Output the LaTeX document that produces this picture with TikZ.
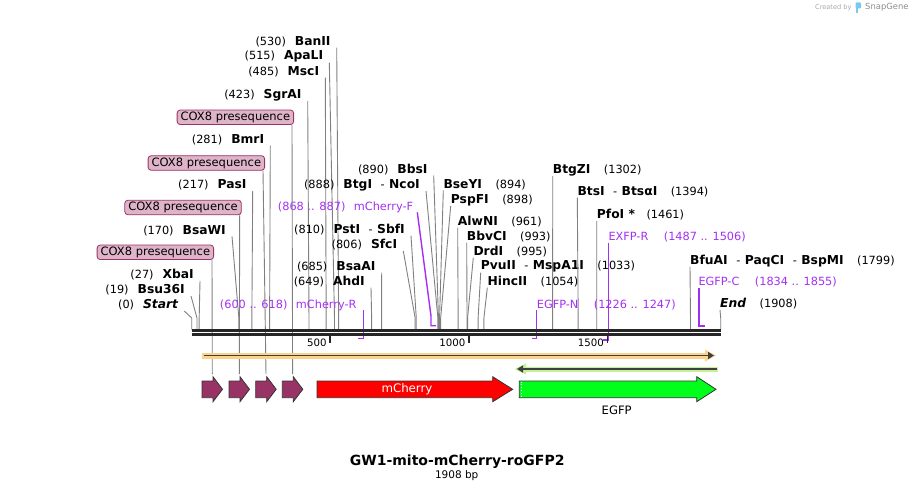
\documentclass[tikz,border=0pt]{standalone}
\usepackage{fontspec}
\setmainfont{DejaVu Sans}
\usetikzlibrary{arrows.meta}
\definecolor{sitegrey}{RGB}{128,128,128}
\definecolor{primerc}{RGB}{163,48,240}
\definecolor{coxc}{RGB}{153,51,102}
\definecolor{coxpink}{RGB}{222,180,200}
\definecolor{bandorange}{RGB}{252,211,140}
\definecolor{bandgreen}{RGB}{196,240,150}
\definecolor{egfpc}{RGB}{0,255,26}
\definecolor{snapblue}{RGB}{120,200,240}
\newcommand\nm[1]{{\fontsize{12.3}{14}\selectfont\bfseries #1}}
\newcommand\sep{\hspace{8.5pt}-\hspace{4.5pt}}

\begin{document}
\begin{tikzpicture}[x=1pt,y=-1pt,
    lbl/.style={inner sep=0pt,font=\fontsize{11.3}{13}\selectfont},
    plbl/.style={lbl,text=primerc},
    cut/.style={draw=sitegrey,line width=0.9pt},
    primer/.style={draw=primerc,line width=1.4pt},
    coxbox/.style={draw=coxc,fill=coxpink,rounded corners=3pt,line width=0.8pt,
      inner xsep=3.5pt,inner ysep=0pt,minimum height=14.5pt,font=\fontsize{11.5}{13}\selectfont},
    feat/.style={draw=black!80,line width=0.8pt},
    backbone/.style={draw=black!85,line width=2.6pt}]
  \useasboundingbox (0,0) rectangle (913,492);

  \foreach \id/\pos/\lx/\ly/\txt in {
      banII/530/330.7/41.7/{(530)\hspace{9pt}\nm{BanII}},
      apaLI/515/323.3/56.7/{(515)\hspace{9pt}\nm{ApaLI}},
      mscI/485/319.3/71.7/{(485)\hspace{9pt}\nm{MscI}},
      sgrAI/423/301.7/95/{(423)\hspace{9pt}\nm{SgrAI}},
      bmrI/281/264.3/139.7/{(281)\hspace{9pt}\nm{BmrI}},
      pasI/217/246.7/185/{(217)\hspace{9pt}\nm{PasI}},
      bsaWI/170/226/230.3/{(170)\hspace{9pt}\nm{BsaWI}},
      xbaI/27/194/275/{(27)\hspace{9pt}\nm{XbaI}},
      bsu36I/19/185/290/{(19)\hspace{9pt}\nm{Bsu36I}},
      startlbl/0/178.3/305/{(0)\hspace{9pt}\nm{\itshape Start}},
      bbsI/890/427.7/169.5/{(890)\hspace{9pt}\nm{BbsI}},
      btgI/888/420/185/{(888)\hspace{9pt}\nm{BtgI}\sep\nm{NcoI}},
      pstI/810/405/229.7/{(810)\hspace{9pt}\nm{PstI}\sep\nm{SbfI}},
      sfcI/806/397.3/245/{(806)\hspace{9pt}\nm{SfcI}},
      bsaAI/685/375.7/266.7/{(685)\hspace{9pt}\nm{BsaAI}},
      ahdI/649/365/281.7/{(649)\hspace{9pt}\nm{AhdI}}}{
    \node[lbl,anchor=east] (\id) at (\lx,\ly) {\txt};
    \pgfmathsetmacro\sx{191.7+0.27725*\pos}
    \coordinate (\id-k) at (\sx,318);
    \coordinate (\id-b) at (\sx,329.5);
    \draw[cut] ([shift={(6,6)}]\id.east) -- (\id-k) -- (\id-b);
  }

  \foreach \id/\pos/\lx/\ly/\txt in {
      bseYI/894/443.3/184.3/{\nm{BseYI}\hspace{13.5pt}(894)},
      pspFI/898/450.7/200/{\nm{PspFI}\hspace{13.5pt}(898)},
      alwNI/961/457.7/221.7/{\nm{AlwNI}\hspace{13.5pt}(961)},
      bbvCI/993/466.7/236.7/{\nm{BbvCI}\hspace{13.5pt}(993)},
      drdI/995/473.3/251.7/{\nm{DrdI}\hspace{13.5pt}(995)},
      pvuII/1033/480.7/266.7/{\nm{PvuII}\sep\nm{MspA1I}\hspace{13.5pt}(1033)},
      hincII/1054/487.3/281.7/{\nm{HincII}\hspace{13.5pt}(1054)},
      btgZI/1302/552.7/170/{\nm{BtgZI}\hspace{13.5pt}(1302)},
      btsI/1394/577.3/191.7/{\nm{BtsI}\sep\nm{BtsαI}\hspace{13.5pt}(1394)},
      pfoI/1461/596.7/215/{\nm{PfoI *}\hspace{11.5pt}(1461)},
      bfuAI/1799/690/260.7/{\nm{BfuAI}\sep\nm{PaqCI}\sep\nm{BspMI}\hspace{13.5pt}(1799)},
      endlbl/1908/720/304/{\nm{\itshape End}\hspace{13.5pt}(1908)}}{
    \node[lbl,anchor=west] (\id) at (\lx,\ly) {\txt};
    \pgfmathsetmacro\sx{191.7+0.27725*\pos}
    \coordinate (\id-k) at (\sx,318);
    \coordinate (\id-b) at (\sx,329.5);
    \draw[cut] ([shift={(0,6)}]\id.west) -- (\id-k) -- (\id-b);
  }

  \node[plbl,anchor=east] (mchF) at (413.3,207.3) {(868 .. 887)\hspace{8.5pt}mCherry-F};
  \coordinate (mchF-k) at (431,316);
  \coordinate (mchF-a) at (431,325.7);
  \coordinate (mchF-b) at (436,325.7);
  \draw[primer] ([shift={(4,5)}]mchF.east) -- (mchF-k) -- (mchF-a) -- (mchF-b);

  \node[plbl,anchor=east] (mchR) at (356.7,305) {(600 .. 618)\hspace{8.5pt}mCherry-R};
  \coordinate (mchR-a) at (363.3,338.5);
  \coordinate (mchR-b) at (358.3,338.5);
  \draw[primer] ([shift={(6.6,5)}]mchR.east) -- (mchR-a) -- (mchR-b);

  \node[plbl,anchor=west] (egfpN) at (536.7,305) {EGFP-N\hspace{15.5pt}(1226 .. 1247)};
  \coordinate (egfpN-a) at (536.7,338.5);
  \coordinate (egfpN-b) at (531.7,338.5);
  \draw[primer] ([shift={(0,5)}]egfpN.west) -- (egfpN-a) -- (egfpN-b);

  \node[plbl,anchor=west] (exfpR) at (608.3,236.7) {EXFP-R\hspace{15.5pt}(1487 .. 1506)};
  \coordinate (exfpR-a) at (608.3,340);
  \coordinate (exfpR-b) at (603.3,340);
  \draw[primer] ([shift={(0,6)}]exfpR.west) -- (exfpR-a) -- (exfpR-b);

  \node[plbl,anchor=west] (egfpC) at (698.3,282.3) {EGFP-C\hspace{15.5pt}(1834 .. 1855)};
  \coordinate (egfpC-a) at (699,326);
  \coordinate (egfpC-b) at (704.5,326);
  \draw[primer] ([shift={(0.7,6)}]egfpC.west) -- (egfpC-a) -- (egfpC-b);

  \foreach \s [count=\i] in {202,229,255.7,282.3}{
    \draw[feat,fill=coxc] (\s,381) -- (\s+11,381) -- (\s+11,376.7) -- (\s+20.5,389.3)
      -- (\s+11,401.7) -- (\s+11,397.7) -- (\s,397.7) -- cycle;
    \coordinate (cox\i) at (\s+10.3,374);
  }
  \foreach \i/\bx/\by in {1/214/252.3,2/241.7/207.5,3/265/163,4/294/117.3}{
    \node[coxbox,anchor=east] (box\i) at (\bx,\by) {COX8 presequence};
    \draw[cut] ([xshift=-2pt]box\i.south east) -- (cox\i);
  }

  \coordinate (bb0) at (191.7,330.7);
  \coordinate (bb1) at (720.7,330.7);
  \draw[backbone] (bb0) -- (bb1);
  \draw[backbone,transform canvas={yshift=-3.8pt}] (bb0) -- (bb1);

  \foreach \t in {500,1000,1500}{
    \pgfmathsetmacro\tx{191.7+0.27725*\t}
    \coordinate (tick\t) at (\tx,336);
    \draw[black!85,line width=1.7pt] (tick\t) -- ++(0,7);
    \node[lbl,anchor=east,font=\fontsize{10.2}{12}\selectfont] (tl\t) at (\tx-3.5,342.3) {\t};
  }

  \fill[bandorange] (201.7,352.5) rectangle (708,358.5);
  \fill[bandorange] (705,349.5) -- (716,355.5) -- (705,361.5) -- cycle;
  \draw[black!75,line width=1.8pt,-{Triangle[length=6pt,width=7pt]}] (204,355.5) -- (714,355.5);

  \fill[bandgreen] (524,366.5) rectangle (717.7,371.5);
  \fill[bandgreen] (526,363.5) -- (514.5,369) -- (526,374.5) -- cycle;
  \draw[black!75,line width=1.8pt,-{Triangle[length=6pt,width=7pt]}] (716.7,369) -- (517,369);

  \draw[feat,fill=red] (317,381) -- (492.7,381) -- (492.7,376.7) -- (512.7,389.3)
    -- (492.7,401.7) -- (492.7,397.7) -- (317,397.7) -- cycle;
  \node[lbl,text=white,font=\fontsize{11.8}{13}\selectfont] (mcherry) at (407,389.3) {mCherry};

  \draw[feat,fill=egfpc] (519.3,381) -- (696.7,381) -- (696.7,376.7) -- (716,389.3)
    -- (696.7,401.7) -- (696.7,397.7) -- (519.3,397.7) -- cycle;
  \draw[white,dotted,line width=0.8pt] (521.2,381.6) -- (521.2,397.1);
  \node[lbl,font=\fontsize{11.6}{13}\selectfont] (egfp) at (616.7,410) {EGFP};

  \node[lbl,font=\fontsize{14}{16}\selectfont\bfseries] (title) at (457.2,461.7) {GW1-mito-mCherry-roGFP2};
  \node[lbl,font=\fontsize{10.5}{12}\selectfont] (bp) at (456.7,475.3) {1908 bp};

  \node[lbl,anchor=east,text=black!35,font=\fontsize{6.6}{8}\selectfont] (made) at (851.7,7.3) {Created by};
  \fill[snapblue,rounded corners=1pt] (855.5,2.5) rectangle (861,8.5);
  \fill[snapblue] (855.5,5) rectangle (857.6,13);
  \node[lbl,anchor=west,text=black!45,font=\fontsize{8.4}{10}\selectfont] (snap) at (865,7.3) {SnapGene};
\end{tikzpicture}
\end{document}
